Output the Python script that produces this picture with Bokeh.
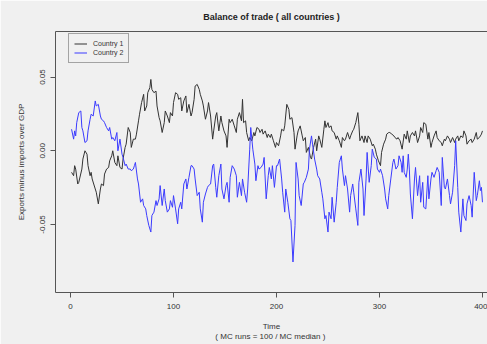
from bokeh.plotting import figure
from bokeh.models import Range1d, LinearAxis, FixedTicker, PrintfTickFormatter
from bokeh.embed import file_html
from bokeh.resources import INLINE

title_text = "Balance of trade ( all countries )"
x_label = "Time\n( MC runs = 100 / MC median  )"
y_label = "Exports minus imports over GDP"
series_names = ["Country 1", "Country 2"]
x_ticks = [0, 100, 200, 300, 400]
y_ticks = [-0.05, 0.0, 0.05]

t1 = [1, 3, 4, 5, 7, 8, 11, 12, 14, 16,
      17, 19, 20, 21, 24, 25, 27, 29, 30, 32,
      33, 35, 37, 38, 40, 41, 43, 45, 46, 48,
      50, 51, 53, 54, 56, 58, 59, 61, 63, 64,
      66, 67, 69, 71, 72, 74, 75, 77, 78, 79,
      81, 83, 84, 86, 87, 89, 91, 92, 94, 96,
      97, 99, 100, 102, 104, 105, 107, 108, 110, 112,
      113, 115, 117, 118, 120, 121, 123, 125, 126, 128,
      129, 131, 133, 134, 136, 138, 139, 141, 142, 144,
      146, 147, 149, 151, 152, 154, 155, 157, 159, 161,
      162, 164, 166, 167, 168, 170, 171, 173, 174, 176,
      178, 179, 181, 183, 184, 186, 187, 189, 191, 192,
      194, 195, 197, 199, 200, 202, 204, 205, 207, 208,
      210, 212, 213, 215, 217, 218, 220, 221, 223, 225,
      226, 228, 229, 231, 233, 234, 236, 238, 239, 241,
      242, 244, 246, 247, 248, 250, 251, 253, 254, 256,
      258, 259, 261, 263, 264, 266, 267, 269, 271, 272,
      274, 275, 277, 279, 280, 281, 283, 285, 286, 288,
      289, 291, 293, 294, 296, 297, 299, 301, 302, 304,
      306, 307, 309, 310, 312, 314, 315, 317, 318, 320,
      322, 324, 326, 327, 329, 330, 332, 334, 335, 337,
      339, 340, 342, 343, 345, 347, 348, 350, 351, 353,
      355, 356, 358, 360, 361, 363, 364, 366, 368, 369,
      371, 373, 374, 376, 377, 379, 381, 382, 384, 385,
      387, 389, 390, 392, 394, 395, 397, 398, 399, 400]
country1 = [-0.0146, -0.0169, -0.0101, -0.0124, -0.0225, -0.0214, -0.0124, -0.0056, 0.0, -0.0023,
            -0.0101, -0.0169, -0.0146, -0.0191, -0.0259, -0.0281, -0.0360, -0.0259, -0.0225, -0.0236,
            -0.0158, -0.0124, -0.0113, -0.0068, -0.0034, 0.0, -0.0079, -0.0101, -0.0034, -0.0113,
            -0.0124, -0.0056, 0.0023, 0.0045, 0.0158, 0.0124, 0.0023, 0.0079, 0.0079, 0.0113,
            0.0203, 0.0248, 0.0327, 0.0383, 0.0270, 0.0304, 0.0394, 0.0428, 0.0484, 0.0416,
            0.0394, 0.0405, 0.0304, 0.0225, 0.0203, 0.0124, 0.0191, 0.0270, 0.0236, 0.0191,
            0.0259, 0.0236, 0.0327, 0.0394, 0.0383, 0.0349, 0.0360, 0.0270, 0.0338, 0.0372,
            0.0259, 0.0315, 0.0236, 0.0259, 0.0349, 0.0439, 0.0450, 0.0416, 0.0383, 0.0338,
            0.0304, 0.0214, 0.0270, 0.0327, 0.0236, 0.0079, 0.0135, 0.0236, 0.0259, 0.0135,
            0.0236, 0.0191, 0.0135, 0.0101, 0.0023, 0.0214, 0.0191, 0.0214, 0.0169, 0.0124,
            0.0214, 0.0259, 0.0203, 0.0349, 0.0191, 0.0203, 0.0124, 0.0068, 0.0090, 0.0068,
            0.0124, 0.0101, 0.0158, 0.0146, 0.0124, 0.0146, 0.0113, 0.0135, 0.0090, 0.0113,
            0.0090, 0.0113, 0.0068, 0.0023, 0.0056, 0.0034, 0.0101, 0.0146, 0.0135, 0.0169,
            0.0315, 0.0281, 0.0214, 0.0225, 0.0124, 0.0011, 0.0101, 0.0135, 0.0169, 0.0101,
            0.0068, 0.0090, -0.0011, 0.0023, -0.0045, -0.0056, 0.0023, 0.0079, 0.0, 0.0101,
            0.0079, 0.0023, 0.0146, 0.0203, 0.0158, 0.0191, 0.0158, 0.0169, 0.0135, 0.0124,
            0.0079, 0.0101, 0.0068, 0.0023, 0.0090, 0.0068, 0.0079, 0.0124, 0.0079, 0.0101,
            0.0135, 0.0146, 0.0191, 0.0259, 0.0180, 0.0068, 0.0101, 0.0056, 0.0101, 0.0056,
            0.0101, 0.0079, 0.0034, 0.0045, 0.0011, -0.0023, -0.0068, -0.0101, -0.0011, 0.0045,
            0.0079, 0.0113, 0.0124, 0.0124, 0.0113, 0.0101, 0.0090, 0.0079, 0.0090, 0.0068,
            0.0011, 0.0113, 0.0079, 0.0135, 0.0056, 0.0101, 0.0124, 0.0101, 0.0135, 0.0056,
            0.0101, 0.0158, 0.0124, 0.0191, 0.0180, 0.0079, 0.0124, 0.0023, 0.0056, 0.0101,
            0.0135, 0.0090, 0.0068, 0.0056, 0.0034, 0.0079, 0.0068, 0.0101, 0.0079, 0.0056,
            0.0090, 0.0056, 0.0079, 0.0101, 0.0068, 0.0101, 0.0090, 0.0135, 0.0101, 0.0045,
            0.0068, 0.0079, 0.0056, 0.0079, 0.0124, 0.0079, 0.0090, 0.0101, 0.0113, 0.0135]

t2 = [1, 3, 4, 5, 6, 8, 10, 11, 12, 14,
      16, 17, 19, 20, 22, 24, 25, 27, 29, 30,
      32, 33, 35, 37, 38, 40, 41, 43, 45, 46,
      48, 50, 51, 53, 54, 56, 58, 59, 61, 62,
      63, 65, 66, 68, 70, 71, 73, 74, 76, 78,
      79, 81, 83, 84, 86, 87, 89, 91, 92, 94,
      96, 97, 99, 100, 102, 104, 105, 107, 108, 110,
      112, 113, 115, 117, 118, 120, 121, 123, 125, 126,
      128, 129, 131, 133, 134, 136, 138, 139, 141, 142,
      144, 146, 147, 149, 151, 152, 154, 155, 157, 159,
      161, 162, 164, 166, 167, 169, 171, 172, 174, 175,
      177, 179, 180, 182, 183, 185, 187, 188, 190, 192,
      193, 195, 196, 198, 200, 201, 203, 205, 206, 208,
      209, 211, 213, 214, 216, 218, 219, 221, 222, 224,
      226, 227, 229, 231, 232, 234, 235, 237, 239, 240,
      242, 244, 245, 247, 248, 250, 251, 253, 254, 256,
      258, 259, 261, 263, 264, 266, 267, 269, 271, 272,
      274, 275, 277, 279, 280, 282, 284, 285, 287, 288,
      290, 292, 293, 295, 297, 298, 300, 301, 303, 305,
      306, 308, 309, 311, 313, 314, 316, 318, 319, 321,
      322, 323, 324, 326, 327, 328, 329, 330, 332, 334,
      335, 337, 339, 340, 342, 343, 345, 347, 348, 350,
      351, 353, 355, 356, 358, 360, 361, 363, 364, 366,
      368, 369, 371, 373, 374, 376, 377, 379, 381, 382,
      384, 385, 387, 389, 390, 392, 394, 395, 397, 398,
      399, 400]
country2 = [0.0146, 0.0079, 0.0135, 0.0101, 0.0191, 0.0259, 0.0270, 0.0158, 0.0135, 0.0056,
            0.0068, 0.0135, 0.0214, 0.0248, 0.0236, 0.0338, 0.0304, 0.0315, 0.0236, 0.0214,
            0.0203, 0.0191, 0.0158, 0.0135, 0.0158, 0.0079, 0.0090, 0.0068, 0.0124, 0.0,
            0.0079, -0.0023, -0.0045, -0.0101, -0.0090, -0.0124, -0.0124, -0.0135, -0.0124, -0.0101,
            -0.0079, -0.0191, -0.0225, -0.0349, -0.0326, -0.0371, -0.0394, -0.0439, -0.0506, -0.0551,
            -0.0439, -0.0416, -0.0338, -0.0371, -0.0326, -0.0236, -0.0371, -0.0259, -0.0338, -0.0416,
            -0.0394, -0.0338, -0.0383, -0.0304, -0.0394, -0.0495, -0.0394, -0.0349, -0.0394, -0.0225,
            -0.0191, -0.0259, -0.0180, -0.0101, -0.0101, -0.0124, -0.0191, -0.0304, -0.0281, -0.0394,
            -0.0484, -0.0349, -0.0293, -0.0248, -0.0236, -0.0225, -0.0101, -0.0090, -0.0248, -0.0315,
            -0.0169, -0.0090, -0.0259, -0.0326, -0.0236, -0.0214, -0.0349, -0.0180, -0.0101, -0.0124,
            -0.0169, -0.0315, -0.0214, -0.0304, -0.0191, -0.0281, -0.0349, -0.0259, 0.0011, 0.0158,
            0.0011, -0.0090, -0.0203, -0.0101, -0.0124, -0.0113, -0.0090, -0.0045, -0.0326, -0.0169,
            -0.0113, -0.0191, -0.0101, -0.0248, -0.0101, -0.0101, -0.0056, -0.0191, -0.0281, -0.0416,
            -0.0259, -0.0349, -0.0461, -0.0473, -0.0754, -0.0506, -0.0079, -0.0191, -0.0304, -0.0371,
            -0.0225, -0.0214, -0.0180, -0.0124, 0.0011, 0.0101, 0.0045, -0.0056, -0.0124, -0.0169,
            -0.0191, -0.0281, -0.0326, -0.0461, -0.0439, -0.0551, -0.0416, -0.0461, -0.0315, -0.0484,
            -0.0349, -0.0248, -0.0079, -0.0034, -0.0124, -0.0236, -0.0169, -0.0259, -0.0416, -0.0304,
            -0.0225, -0.0281, -0.0394, -0.0506, -0.0214, -0.0124, -0.0259, -0.0439, -0.0191, -0.0011,
            -0.0214, -0.0101, 0.0011, -0.0045, -0.0056, -0.0124, -0.0146, -0.0124, -0.0169, -0.0259,
            -0.0326, -0.0394, -0.0304, -0.0191, -0.0079, -0.0056, -0.0124, -0.0101, -0.0034, -0.0079,
            -0.0146, -0.0034, -0.0146, -0.0180, -0.0124, -0.0023, -0.0124, -0.0293, -0.0461, -0.0191,
            -0.0113, -0.0304, -0.0169, -0.0349, -0.0214, -0.0383, -0.0394, -0.0169, -0.0326, -0.0191,
            -0.0146, -0.0180, -0.0135, -0.0113, -0.0146, -0.0371, -0.0045, -0.0248, -0.0259, -0.0191,
            -0.0304, -0.0360, -0.0281, -0.0101, 0.0068, -0.0248, -0.0416, -0.0551, -0.0326, -0.0439,
            -0.0473, -0.0360, -0.0304, -0.0371, -0.0450, -0.0146, -0.0338, -0.0304, -0.0203, -0.0270,
            -0.0248, -0.0349]

assert len(t1) == len(country1), (len(t1), len(country1))
assert len(t2) == len(country2), (len(t2), len(country2))

BG = "#f0f0f0"
AX = "#555555"
TXT = "#333333"
FONT = "Liberation Sans"

p = figure(width=487, height=344, output_backend="svg", toolbar_location=None,
           x_range=Range1d(-14.6, 404.9), y_range=Range1d(-0.0961, 0.0809),
           min_border_left=55, min_border_right=0, min_border_top=30, min_border_bottom=52,
           background_fill_color=BG, border_fill_color=BG, outline_line_color=None)
p.grid.visible = False

p.title.text = title_text
p.title.align = "center"
p.title.text_font = FONT
p.title.text_font_size = "9px"
p.title.text_font_style = "bold"
p.title.text_color = "#222222"
p.title.standoff = 19

for ax in (p.xaxis[0], p.yaxis[0]):
    ax.axis_line_color = AX
    ax.major_tick_line_color = AX
    ax.major_tick_out = 5
    ax.major_tick_in = 0
    ax.minor_tick_line_color = None
    ax.major_label_text_font = FONT
    ax.major_label_text_font_size = "8px"
    ax.major_label_text_color = TXT
    ax.axis_label_text_font = FONT
    ax.axis_label_text_font_size = "8px"
    ax.axis_label_text_font_style = "normal"
    ax.axis_label_text_color = TXT

p.xaxis.ticker = FixedTicker(ticks=x_ticks)
p.xaxis.axis_label = x_label
p.xaxis.major_label_standoff = 6
p.xaxis.axis_label_standoff = 10

p.yaxis.ticker = FixedTicker(ticks=y_ticks)
p.yaxis.formatter = PrintfTickFormatter(format="%.2f")
p.yaxis.major_label_orientation = "vertical"
p.yaxis.axis_label = y_label
p.yaxis.major_label_standoff = 5
p.yaxis.axis_label_standoff = 12

top = LinearAxis(ticker=FixedTicker(ticks=[]), axis_line_color=AX,
                 major_tick_out=0, major_tick_in=0, minor_tick_out=0, minor_tick_in=0,
                 major_label_text_font_size="0px")
p.add_layout(top, "above")

p.line(t1, country1, line_color="#333333", line_width=1, legend_label=series_names[0])
p.line(t2, country2, line_color="#3b3bff", line_width=1, legend_label=series_names[1])

lg = p.legend[0]
lg.location = (13, 229)
lg.label_text_font = FONT
lg.label_text_font_size = "7px"
lg.label_text_color = TXT
lg.glyph_width = 13
lg.glyph_height = 9
lg.label_height = 9
lg.spacing = 0
lg.padding = 5
lg.margin = 0
lg.label_standoff = 6
lg.border_line_color = AX
lg.background_fill_color = BG
lg.background_fill_alpha = 1.0

open("out.html", "w").write(file_html(p, INLINE))
